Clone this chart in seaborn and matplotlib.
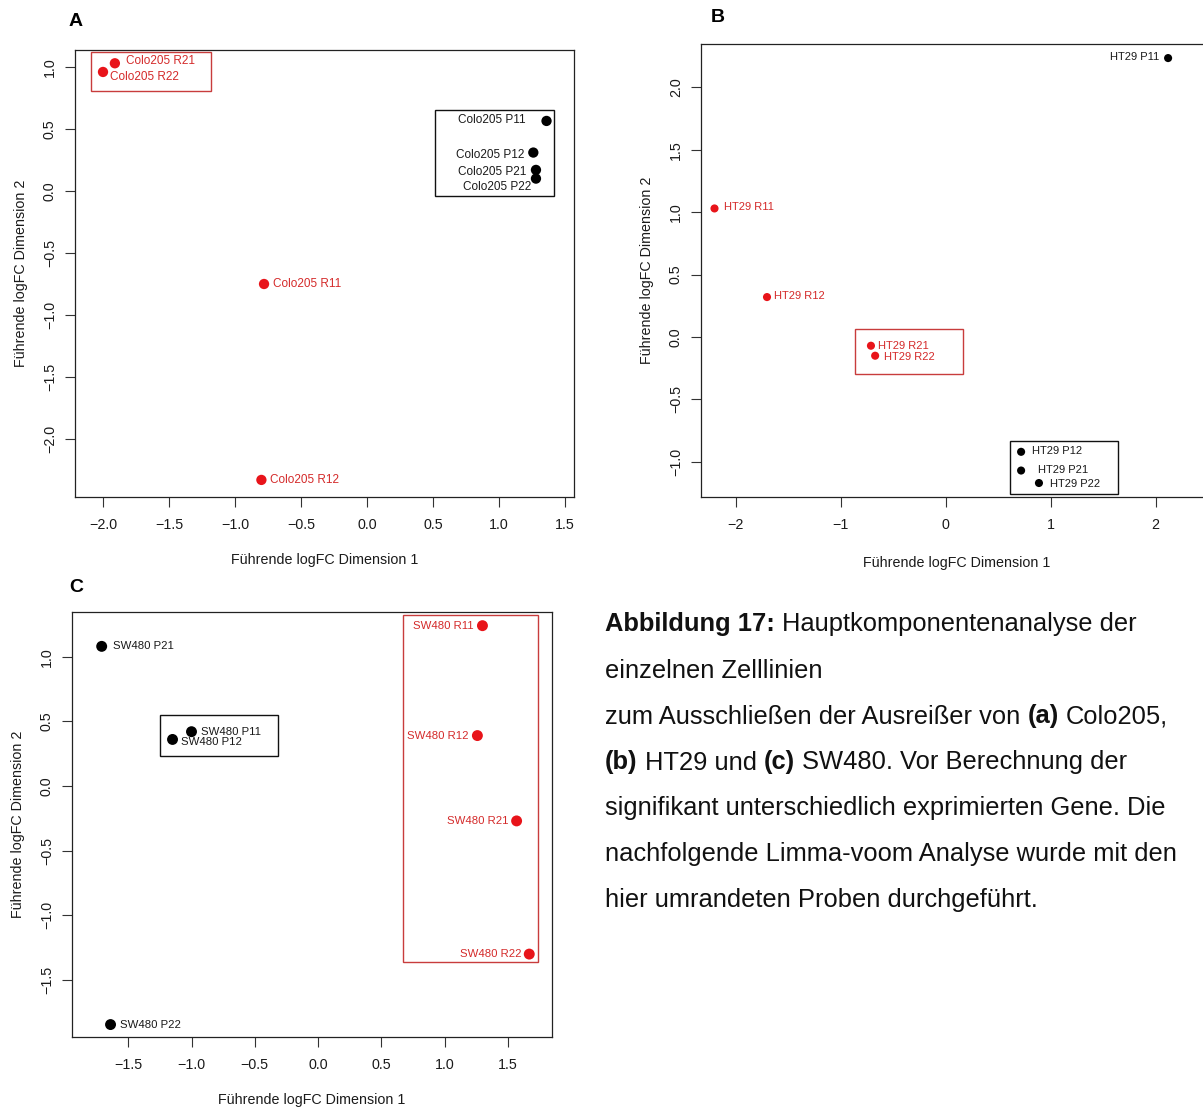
import numpy as np
import pandas as pd
import matplotlib
matplotlib.use("Agg")
import matplotlib.pyplot as plt
import matplotlib.font_manager as fm
import seaborn as sns
from matplotlib.patches import Rectangle

# ---------------- data ----------------
# Panel A - Colo205
a_labels = ["Colo205 R21", "Colo205 R22", "Colo205 P11", "Colo205 P12",
            "Colo205 P21", "Colo205 P22", "Colo205 R11", "Colo205 R12"]
a_dim1 = [-1.91, -2.00, 1.36, 1.26, 1.28, 1.28, -0.78, -0.80]
a_dim2 = [1.03, 0.96, 0.565, 0.31, 0.17, 0.10, -0.75, -2.33]
a_group = ["R", "R", "P", "P", "P", "P", "R", "R"]

# Panel B - HT29
b_labels = ["HT29 P11", "HT29 R11", "HT29 R12", "HT29 R21", "HT29 R22",
            "HT29 P12", "HT29 P21", "HT29 P22"]
b_dim1 = [2.12, -2.20, -1.70, -0.71, -0.67, 0.72, 0.72, 0.89]
b_dim2 = [2.235, 1.03, 0.32, -0.07, -0.15, -0.92, -1.07, -1.17]
b_group = ["P", "R", "R", "R", "R", "P", "P", "P"]

# Panel C - SW480
c_labels = ["SW480 P21", "SW480 P11", "SW480 P12", "SW480 P22",
            "SW480 R11", "SW480 R12", "SW480 R21", "SW480 R22"]
c_dim1 = [-1.71, -1.00, -1.15, -1.64, 1.30, 1.26, 1.57, 1.67]
c_dim2 = [1.08, 0.42, 0.36, -1.845, 1.24, 0.39, -0.27, -1.30]
c_group = ["P", "P", "P", "P", "R", "R", "R", "R"]

# tick values / labels
a_xticks = [-2.0, -1.5, -1.0, -0.5, 0.0, 0.5, 1.0, 1.5]
a_xticklabels = ["−2.0", "−1.5", "−1.0", "−0.5", "0.0", "0.5", "1.0", "1.5"]
a_yticks = [-2.0, -1.5, -1.0, -0.5, 0.0, 0.5, 1.0]
a_yticklabels = ["−2.0", "−1.5", "−1.0", "−0.5", "0.0", "0.5", "1.0"]
b_xticks = [-2, -1, 0, 1, 2]
b_xticklabels = ["−2", "−1", "0", "1", "2"]
b_yticks = [-1.0, -0.5, 0.0, 0.5, 1.0, 1.5, 2.0]
b_yticklabels = ["−1.0", "−0.5", "0.0", "0.5", "1.0", "1.5", "2.0"]
c_xticks = [-1.5, -1.0, -0.5, 0.0, 0.5, 1.0, 1.5]
c_xticklabels = ["−1.5", "−1.0", "−0.5", "0.0", "0.5", "1.0", "1.5"]
c_yticks = [-1.5, -1.0, -0.5, 0.0, 0.5, 1.0]
c_yticklabels = ["−1.5", "−1.0", "−0.5", "0.0", "0.5", "1.0"]

# group boxes (x0, x1, y0, y1, group)
a_boxes = [(-2.09, -1.18, 0.81, 1.12, "R"), (0.515, 1.42, -0.04, 0.65, "P")]
b_boxes = [(-0.86, 0.17, -0.30, 0.064, "R"), (0.61, 1.64, -1.26, -0.83, "P")]
c_boxes = [(-1.25, -0.32, 0.23, 0.55, "P"), (0.67, 1.74, -1.36, 1.32, "R")]

xlabel = "Führende logFC Dimension 1"
ylabel = "Führende logFC Dimension 2"

caption_lines = [
    [("Abbildung 17:", True), (" Hauptkomponentenanalyse der", False)],
    [("einzelnen Zelllinien", False)],
    [("zum Ausschließen der Ausreißer von ", False), ("(a)", True), (" Colo205,", False)],
    [("(b)", True), (" HT29 und ", False), ("(c)", True), (" SW480. Vor Berechnung der", False)],
    [("signifikant unterschiedlich exprimierten Gene. Die", False)],
    [("nachfolgende Limma-voom Analyse wurde mit den", False)],
    [("hier umrandeten Proben durchgeführt.", False)],
]

# ---------------- style ----------------
sns.set_theme(style="white")
fm.fontManager.ttflist = [f for f in fm.fontManager.ttflist
                          if "narrow" not in f.fname.lower() and "narrow" not in f.name.lower()]
try:
    fm.fontManager._findfont_cached.cache_clear()
except Exception:
    pass
plt.rcParams["font.family"] = ["Liberation Sans", "DejaVu Sans"]
plt.rcParams["axes.unicode_minus"] = True

RED = "#e8141a"
RED_TXT = "#d42a2a"
RED_BOX = "#c83c3c"
TXT = "#1a1a1a"
palette = {"R": RED, "P": "#000000"}
txt_color = {"R": RED_TXT, "P": TXT}
box_color = {"R": RED_BOX, "P": "#111111"}

W, H = 1203, 1108
fig = plt.figure(figsize=(W / 100, H / 100), dpi=100)


def px_axes(l, t, r, b):
    return fig.add_axes([l / W, 1 - b / H, (r - l) / W, (b - t) / H])


def panel(ax, labels, d1, d2, grp, xlim, ylim, xt, xtl, yt, ytl, size, offsets, boxes, fs, xpad):
    df = pd.DataFrame({"d1": d1, "d2": d2, "grp": grp, "lab": labels})
    sns.scatterplot(data=df, x="d1", y="d2", hue="grp", palette=palette, s=size,
                    linewidth=0, legend=False, ax=ax, zorder=3)
    for (_, row), (dx, dy, ha) in zip(df.iterrows(), offsets):
        ax.annotate(row["lab"], (row["d1"], row["d2"]), xytext=(dx, -dy),
                    textcoords="offset pixels", ha=ha, va="center",
                    fontsize=fs, color=txt_color[row["grp"]], zorder=4)
    for x0, x1, y0, y1, g in boxes:
        ax.add_patch(Rectangle((x0, y0), x1 - x0, y1 - y0, fill=False,
                               edgecolor=box_color[g], linewidth=1.0, zorder=2))
    ax.set_xlim(*xlim)
    ax.set_ylim(*ylim)
    ax.set_xticks(xt)
    ax.set_xticklabels(xtl)
    ax.set_yticks(yt)
    ax.set_yticklabels(ytl)
    ax.tick_params(axis="both", direction="out", length=7, width=0.8,
                   colors="#333333", labelcolor=TXT, labelsize=10.3,
                   bottom=True, left=True, top=False, right=False)
    ax.tick_params(axis="x", pad=8)
    ax.tick_params(axis="y", pad=6)
    plt.setp(ax.get_yticklabels(), rotation=90, va="center")
    for sp in ax.spines.values():
        sp.set_visible(True)
        sp.set_color("#222222")
        sp.set_linewidth(0.9)
    ax.set_xlabel(xlabel, fontsize=10.3, color=TXT, labelpad=xpad)
    ax.set_ylabel(ylabel, fontsize=10.3, color=TXT, labelpad=11)
    ax.set_facecolor("white")


# Panel A
axA = px_axes(75, 50, 574, 497)
panel(axA, a_labels, a_dim1, a_dim2, a_group,
      ((75 - 367) / 132, (574 - 367) / 132), ((191 - 497) / 124, (191 - 50) / 124),
      a_xticks, a_xticklabels, a_yticks, a_yticklabels, 55,
      [(11, -2, "left"), (7, 5, "left"), (-21, -1, "right"), (-9, 2, "right"),
       (-10, 2, "right"), (-5, 8, "right"), (9, 0, "left"), (9, 0, "left")],
      a_boxes, 8.5, 15.5)

# Panel B
axB = px_axes(701, 44, 1212, 497)
panel(axB, b_labels, b_dim1, b_dim2, b_group,
      ((701 - 945.5) / 105, (1212 - 945.5) / 105), ((337 - 497) / 124.8, (337 - 44) / 124.8),
      b_xticks, b_xticklabels, b_yticks, b_yticklabels, 34,
      [(-9, -1, "right"), (9, -1, "left"), (7, -1, "left"), (7, 0, "left"),
       (9, 1, "left"), (11, -1, "left"), (17, -1, "left"), (11, 1, "left")],
      b_boxes, 8.0, 17.5)

# Panel C
axC = px_axes(72, 612, 552, 1037)
panel(axC, c_labels, c_dim1, c_dim2, c_group,
      ((72 - 318) / 126.5, (552 - 318) / 126.5), ((786 - 1037) / 129.3, (786 - 612) / 129.3),
      c_xticks, c_xticklabels, c_yticks, c_yticklabels, 62,
      [(11, 0, "left"), (9, 0, "left"), (8, 3, "left"), (9, 0, "left"),
       (-9, 0, "right"), (-9, 0, "right"), (-8, 0, "right"), (-8, 0, "right")],
      c_boxes, 8.2, 15)

# panel letters
for letter, (x, y) in zip(["A", "B", "C"], [(69, 22), (711, 18), (69, 587)]):
    fig.text(x / W, 1 - y / H, letter, fontsize=14, fontweight="bold",
             ha="left", va="center", color="#000000")

# caption with mixed bold runs
renderer = fig.canvas.get_renderer()
cap_size = 18.4
line_y = [622, 668, 714, 760, 806, 852, 898]
probe = fig.text(0, 0, "x x", fontsize=cap_size)
probe2 = fig.text(0, 0, "xx", fontsize=cap_size)
sp = (probe.get_window_extent(renderer).width
      - probe2.get_window_extent(renderer).width)
probe.remove()
probe2.remove()
for runs, yy in zip(caption_lines, line_y):
    x = 605
    for text, bold in runs:
        lead = len(text) - len(text.lstrip(" "))
        core = text.strip(" ")
        trail = len(text) - len(text.rstrip(" "))
        x += lead * sp
        t = fig.text(x / W, 1 - yy / H, core, fontsize=cap_size,
                     fontweight="bold" if bold else "normal",
                     ha="left", va="center_baseline", color="#111111")
        x += t.get_window_extent(renderer).width + trail * sp

fig.savefig("out.png", dpi=100, facecolor="white")
